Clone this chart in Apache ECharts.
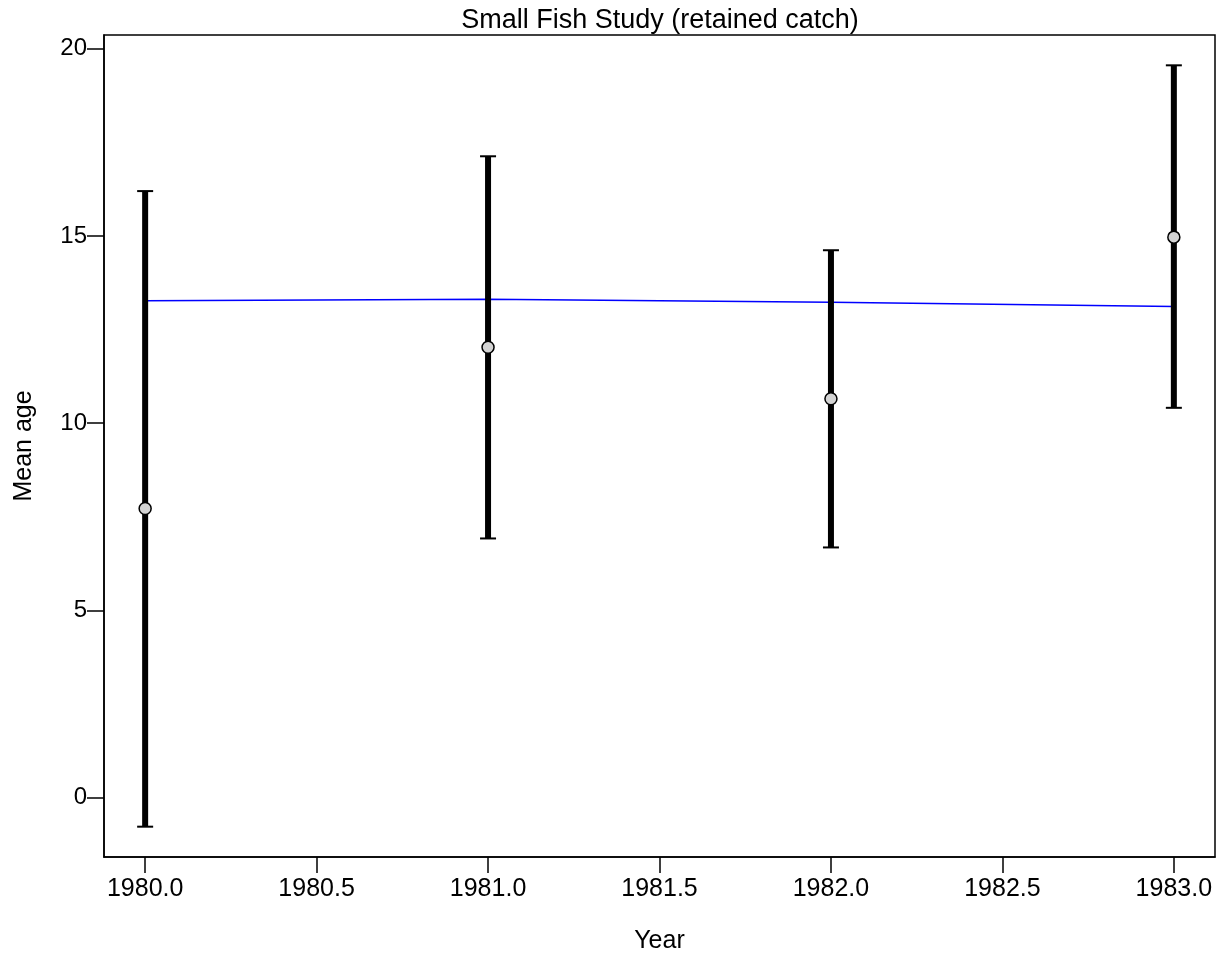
<!DOCTYPE html>
<html>
<head>
<meta charset="utf-8">
<title>Small Fish Study (retained catch)</title>
<script src="https://cdn.jsdelivr.net/npm/echarts@6/dist/echarts.min.js"></script>
<style>
  html, body { margin: 0; padding: 0; background: #fff; }
  #chart { width: 1224px; height: 953px; }
</style>
</head>
<body>
<div id="chart"></div>
<script>
// data
var years = [1980, 1981, 1982, 1983];
var meanAge = [7.72, 12.03, 10.65, 14.97];
var upper = [16.2, 17.13, 14.62, 19.56];
var lower = [-0.78, 6.92, 6.68, 10.41];
var fitted = [13.27, 13.31, 13.23, 13.12];

var xTicks = [1980, 1980.5, 1981, 1981.5, 1982, 1982.5, 1983];
var yTicks = [0, 5, 10, 15, 20];

var font = 'Liberation Sans, Arial, sans-serif';

var pointData = [], barData = [], lineData = [];
for (var i = 0; i < years.length; i++) {
  pointData.push([years[i], meanAge[i]]);
  barData.push([years[i], lower[i], upper[i]]);
  lineData.push([years[i], fitted[i]]);
}

var chart = echarts.init(document.getElementById('chart'));

chart.setOption({
  backgroundColor: '#fff',
  animation: false,
  title: {
    text: 'Small Fish Study (retained catch)',
    left: 655,
    textAlign: 'center',
    top: 2,
    textStyle: { fontFamily: font, fontSize: 27, fontWeight: 'normal', color: '#000' }
  },
  grid: {
    left: 104, right: 9, top: 35, bottom: 96,
    outerBoundsMode: 'none',
    containLabel: false,
    show: true, borderColor: '#000', borderWidth: 1.5
  },
  xAxis: {
    type: 'value',
    min: 1979.88, max: 1983.12,
    name: 'Year', nameLocation: 'middle', nameGap: 72,
    nameTextStyle: { fontFamily: font, fontSize: 25, color: '#000' },
    splitLine: { show: false },
    axisLine: { show: true, onZero: false, lineStyle: { color: '#000', width: 1.5 } },
    axisTick: { show: true, length: 16, customValues: xTicks, lineStyle: { color: '#000', width: 1.5 } },
    axisLabel: {
      customValues: xTicks, margin: 20,
      fontFamily: font, fontSize: 25, color: '#000',
      formatter: function (v) { return v.toFixed(1); }
    }
  },
  yAxis: {
    type: 'value',
    min: -1.59, max: 20.37,
    name: 'Mean age', nameLocation: 'middle', nameGap: 67,
    nameTextStyle: { fontFamily: font, fontSize: 25, color: '#000' },
    splitLine: { show: false },
    axisLine: { show: true, onZero: false, lineStyle: { color: '#000', width: 1.5 } },
    axisTick: { show: true, length: 17, customValues: yTicks, lineStyle: { color: '#000', width: 1.5 } },
    axisLabel: {
      customValues: yTicks, margin: 17,
      fontFamily: font, fontSize: 24, color: '#000'
    }
  },
  series: [
    {
      type: 'line',
      data: lineData,
      showSymbol: false,
      lineStyle: { color: '#0000ff', width: 1.5 },
      z: 1
    },
    {
      type: 'custom',
      data: barData,
      encode: { x: 0, y: [1, 2] },
      z: 2,
      renderItem: function (params, api) {
        var x = api.value(0);
        var lo = api.coord([x, api.value(1)]);
        var hi = api.coord([x, api.value(2)]);
        var cap = 8;
        return {
          type: 'group',
          children: [
            { type: 'line', shape: { x1: lo[0], y1: lo[1], x2: hi[0], y2: hi[1] },
              style: { stroke: '#000', lineWidth: 6 } },
            { type: 'line', shape: { x1: hi[0] - cap, y1: hi[1], x2: hi[0] + cap, y2: hi[1] },
              style: { stroke: '#000', lineWidth: 2 } },
            { type: 'line', shape: { x1: lo[0] - cap, y1: lo[1], x2: lo[0] + cap, y2: lo[1] },
              style: { stroke: '#000', lineWidth: 2 } }
          ]
        };
      }
    },
    {
      type: 'scatter',
      data: pointData,
      symbol: 'circle',
      symbolSize: 12,
      itemStyle: { color: '#d3d3d3', borderColor: '#000', borderWidth: 1.5, opacity: 1 },
      z: 3
    }
  ]
});
</script>
</body>
</html>
